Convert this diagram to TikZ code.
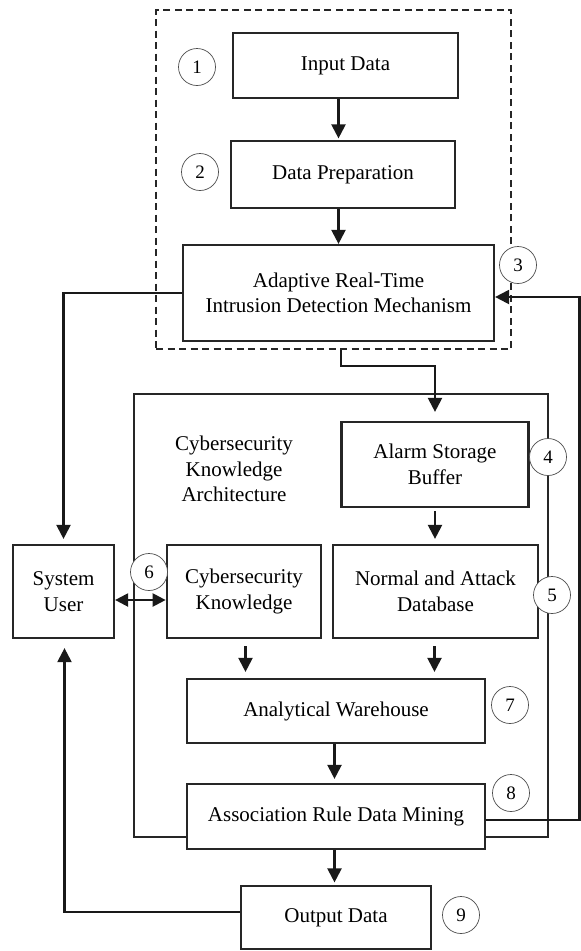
\documentclass[tikz,border=0pt]{standalone}
\usepackage{fontspec}
\setmainfont{Liberation Serif}
\usetikzlibrary{arrows.meta,calc}
\tikzset{
  box/.style={draw=black!85, line width=2.2pt, fill=white, align=center, inner sep=0pt,
    font=\fontsize{21}{25.5}\selectfont},
  numc/.style={circle, draw=black!70, line width=0.7pt, fill=white, minimum size=37pt, inner sep=0pt,
    font=\fontsize{19}{19}\selectfont},
  arr/.style={draw=black!90, line width=2.2pt, -{Triangle[length=14pt,width=14pt]}},
  dblarr/.style={draw=black!90, line width=2.2pt, {Triangle[length=13pt,width=13pt]}-{Triangle[length=13pt,width=13pt]}},
  dashbox/.style={draw=black!85, line width=2pt, dash pattern=on 7pt off 4.5pt, inner sep=0pt},
  framebox/.style={draw=black!85, line width=2.2pt, inner sep=0pt},
  lbl/.style={align=center, font=\fontsize{21}{25.5}\selectfont}
}
\begin{document}
\begin{tikzpicture}[x=1pt,y=-1pt]
\useasboundingbox (0,0) rectangle (581,951);
% containers
\node[dashbox, minimum width=355pt, minimum height=339pt] (grp) at (333.5,179.5) {};
\node[framebox, minimum width=414pt, minimum height=443pt] (cka) at (341,615.5) {};
\node[lbl] (ckalbl) at (234,469) {Cybersecurity\\Knowledge\\Architecture};
% boxes
\node[box, minimum width=225pt, minimum height=65pt] (input) at (345.5,65.5) {Input Data};
\node[box, minimum width=224pt, minimum height=67pt] (prep) at (343,174.5) {Data Preparation};
\node[box, minimum width=311pt, minimum height=96pt] (adapt) at (338.5,293) {Adaptive Real-Time\\Intrusion Detection Mechanism};
\node[box, minimum width=187pt, minimum height=85pt] (alarm) at (435,464.5) {Alarm Storage\\Buffer};
\node[box, minimum width=101pt, minimum height=93pt] (user) at (63.5,591.5) {System\\User};
\node[box, minimum width=154.5pt, minimum height=93pt] (ck) at (244,591.5) {Cybersecurity\\Knowledge};
\node[box, minimum width=205pt, minimum height=93pt] (normal) at (435.5,591.5) {Normal and Attack\\Database};
\node[box, minimum width=298pt, minimum height=64pt] (aw) at (336,711) {Analytical Warehouse};
\node[box, minimum width=298pt, minimum height=65pt] (ardm) at (336,816.5) {Association Rule Data Mining};
\node[box, minimum width=190pt, minimum height=63pt] (output) at (336,917.5) {Output Data};
% number circles
\node[numc] (n1) at (197,67) {1};
\node[numc] (n2) at (200,172) {2};
\node[numc] (n3) at (518,265) {3};
\node[numc] (n4) at (548,457) {4};
\node[numc] (n5) at (552,595) {5};
\node[numc] (n6) at (149,572) {6};
\node[numc] (n7) at (510,705) {7};
\node[numc] (n8) at (511,793) {8};
\node[numc] (n9) at (461,915) {9};
% connectors
\draw[arr, shorten >=1.5pt] (input.south -| adapt.north) -- (prep.north -| adapt.north);
\draw[arr] (prep.south -| adapt.north) -- (adapt.north);
\draw[arr, shorten >=5pt] (adapt.west) -| (user.north);
\coordinate (d1) at ($(grp.south -| adapt.south)+(2.5,0)$);
\draw[arr, shorten >=9pt] (d1) -- ++(0,16) -| (alarm.north);
\draw[arr, shorten <=3pt, shorten >=5pt] (alarm.south) -- (alarm.south |- normal.north);
\draw[dblarr] ([yshift=-8.5pt]user.east) -- ([yshift=-8.5pt]ck.east -| ck.west);
\draw[arr, shorten <=7pt, shorten >=6pt] ([xshift=1.5pt]ck.south) -- ([xshift=1.5pt]ck.south |- aw.north);
\draw[arr, shorten <=7pt, shorten >=6pt] ([xshift=-1pt]normal.south) -- ([xshift=-1pt]normal.south |- aw.north);
\draw[arr, shorten >=4pt] ([xshift=-1.5pt]aw.south) -- ([xshift=-1.5pt]aw.south |- ardm.north);
\draw[arr, shorten >=2.5pt] ([xshift=-1.5pt]ardm.south) -- ([xshift=-1.5pt]ardm.south |- output.north);
\coordinate (l1) at (64.5,912);
\draw[arr, shorten >=9pt] ([yshift=5.5pt]output.west) -- (l1) -- (l1 |- user.south);
\coordinate (r1) at (579.5,820);
\coordinate (r2) at (579.5,297);
\draw[arr] ([yshift=-3.5pt]ardm.east) -- (r1) -- (r2) -- (r2 -| adapt.east);
\end{tikzpicture}
\end{document}
